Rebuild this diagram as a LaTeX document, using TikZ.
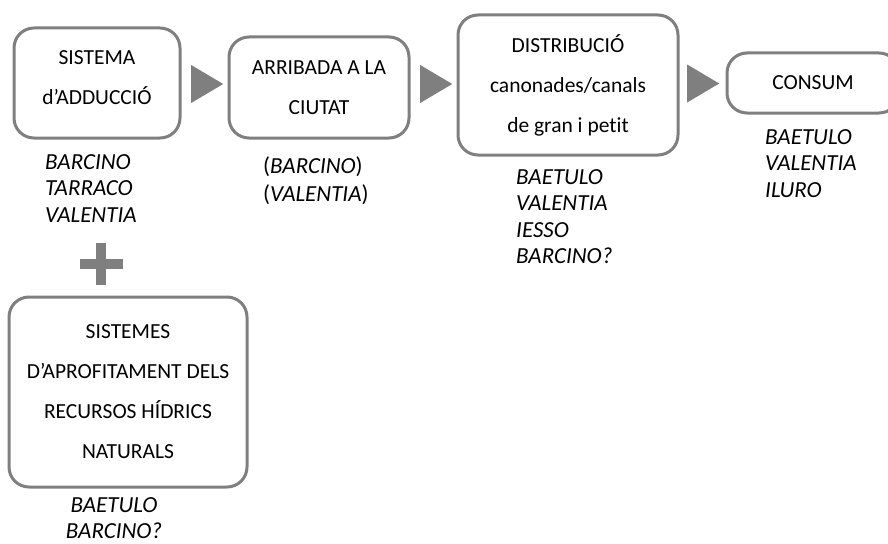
\documentclass[tikz,border=0pt]{standalone}
\usepackage{fontspec}
\setmainfont{Carlito}[Ligatures=NoCommon]
\usetikzlibrary{positioning, shapes.geometric, calc}
\definecolor{boxgray}{HTML}{7F7F7F}
\newcommand\boxfont{\fontsize{21.5}{40}\selectfont}
\newcommand\citiesfont{\fontsize{23}{26.5}\selectfont\itshape}

\begin{document}
\begin{tikzpicture}[x=1pt, y=-1pt,
    stage/.style={rectangle, draw=boxgray, line width=3pt, rounded corners=20pt, align=center, font=\boxfont, inner sep=0pt},
    flow/.style={isosceles triangle, isosceles triangle stretches, fill=boxgray, minimum width=38pt, minimum height=32pt, inner sep=0pt, anchor=west},
    cities/.style={anchor=north west, inner sep=0pt, font=\citiesfont, align=left},
  ]
  \useasboundingbox (0,0) rectangle (888,543);

  % stages
  \node[stage, minimum width=166pt, minimum height=110pt] (adduccio) at (97,83) {SISTEMA\\d’ADDUCCIÓ\\[-30pt]};
  \node[stage, minimum width=180pt, minimum height=101pt] (arribada) at (319,87.5) {ARRIBADA A LA\\CIUTAT};
  \node[stage, minimum width=220pt, minimum height=140pt] (distrib) at (568,85) {DISTRIBUCIÓ\\canonades/canals\\de gran i petit};
  \node[stage, minimum width=172pt, minimum height=60pt] (consum) at (813,83) {CONSUM};
  \node[stage, minimum width=238pt, minimum height=190pt] (recursos) at (128,392) {SISTEMES\\D’APROFITAMENT DELS\\RECURSOS HÍDRICS\\NATURALS};

  % flow triangles
  \node[flow] (flowA) at (191,84) {};
  \node[flow] (flowB) at (420,84) {};
  \node[flow] (flowC) at (687,83.5) {};

  % plus sign
  \coordinate (plus) at (101,264);
  \fill[boxgray] ($(plus)+(-21.5,-5)$) rectangle ($(plus)+(21.5,5)$);
  \fill[boxgray] ($(plus)+(-5,-21)$) rectangle ($(plus)+(5,21)$);

  % cities
  \node[cities] (citA) at (45,154) {BARCINO\\TARRACO\\VALENTIA};
  \node[cities, font=\fontsize{23}{28}\selectfont\itshape] (citB) at (263,156) {\textup{(}BARCINO\textup{)}\\\textup{(}VALENTIA\textup{)}};
  \node[cities] (citC) at (516,169) {BAETULO\\VALENTIA\\IESSO\\BARCINO?};
  \node[cities] (citD) at (765,129) {BAETULO\\VALENTIA\\ILURO};
  \node[cities, anchor=north, align=center] (citE) at (114,497) {BAETULO\\BARCINO?};
\end{tikzpicture}
\end{document}
